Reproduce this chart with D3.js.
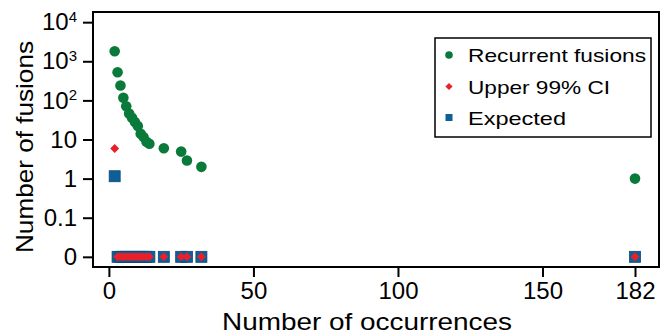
<!DOCTYPE html>
<html>
<head>
<meta charset="utf-8">
<script src="https://cdn.jsdelivr.net/npm/d3@7"></script>
<style>
  body { margin: 0; background: #fff; }
  text { font-family: "Liberation Sans", Arial, sans-serif; fill: #000; }
</style>
</head>
<body>
<div id="canvas"></div>
<script>
// occurrences shared by all three series
const occurrences = [2, 3, 4, 5, 6, 7, 8, 9, 10, 11, 12, 13, 14, 19, 25, 27, 32, 182];
const recurrentFusions = [1800, 525, 240, 117, 71, 46, 36, 28, 22, 14, 11.5, 8.7, 7.8, 6, 4.9, 2.9, 2, 1];
const upperCI = [5.9, 0, 0, 0, 0, 0, 0, 0, 0, 0, 0, 0, 0, 0, 0, 0, 0, 0];
const expected = [1.15, 0, 0, 0, 0, 0, 0, 0, 0, 0, 0, 0, 0, 0, 0, 0, 0, 0];

const xTicks = [0, 50, 100, 150, 182];
const yTicks = [0, 0.1, 1, 10, 100, 1000, 10000];
const yTickLabels = ['0', '0.1', '1', '10', '10|2', '10|3', '10|4'];
const legendLabels = ['Recurrent fusions', 'Upper 99% CI', 'Expected'];

const w = 661;
const h = 335;
const mLeft = 93, mRight = 659, mTop = 12, mBottom = 267;

const green = '#0a7a3a';
const red = '#e8202a';
const blue = '#0f5e98';

const xScale = d3.scaleLinear()
  .domain([-5.5, 190.3])
  .range([mLeft, mRight]);

const yLog = d3.scaleLog()
  .domain([Math.pow(10, -2.26), Math.pow(10, 4.26)])
  .range([mBottom, mTop]);
// zero is drawn on the 0.01 row
const yScale = (v) => yLog(v === 0 ? 0.01 : v);

const svg = d3.select('#canvas')
  .append('svg')
  .attr('width', w)
  .attr('height', h);

// frame
svg.append('rect')
  .attr('x', mLeft)
  .attr('y', mTop)
  .attr('width', mRight - mLeft)
  .attr('height', mBottom - mTop)
  .attr('fill', 'none')
  .attr('stroke', '#000')
  .attr('stroke-width', 2);

// axes
const xAxis = d3.axisBottom(xScale)
  .tickValues(xTicks)
  .tickSize(10)
  .tickPadding(5)
  .tickFormat(d3.format('d'));

const gx = svg.append('g')
  .attr('transform', 'translate(0,' + mBottom + ')')
  .call(xAxis);

const yAxis = d3.axisLeft(yLog)
  .tickValues(yTicks.map(v => v === 0 ? 0.01 : v))
  .tickSize(10)
  .tickPadding(6)
  .tickFormat((d, i) => yTickLabels[i]);

const gy = svg.append('g')
  .attr('transform', 'translate(' + mLeft + ',0)')
  .call(yAxis);

[gx, gy].forEach(g => {
  g.select('.domain').remove();
  g.selectAll('.tick line').attr('stroke', '#000').attr('stroke-width', 2);
  g.selectAll('.tick text')
    .attr('font-size', 24)
    .attr('font-family', '"Liberation Sans", Arial, sans-serif')
    .attr('fill', '#000');
});

// superscript powers of ten
gy.selectAll('.tick text').each(function() {
  const t = d3.select(this);
  const s = t.text();
  if (s.indexOf('|') >= 0) {
    const parts = s.split('|');
    t.text(null);
    t.append('tspan').text(parts[0]);
    t.append('tspan').attr('dy', '-0.55em').attr('font-size', 15).text(parts[1]);
  }
});

// expected (squares)
svg.selectAll('rect.expected')
  .data(occurrences)
  .enter()
  .append('rect')
  .attr('class', 'expected')
  .attr('x', (d) => xScale(d) - 5.5)
  .attr('y', (d, i) => yScale(expected[i]) - 5.5)
  .attr('width', 11)
  .attr('height', 11)
  .attr('fill', blue)
  .attr('stroke', '#0b4a78')
  .attr('stroke-width', 0.8);

// upper 99% CI (diamonds)
const diamond = d3.symbol(d3.symbolSquare, 40);
svg.selectAll('path.ci')
  .data(occurrences)
  .enter()
  .append('path')
  .attr('class', 'ci')
  .attr('d', diamond)
  .attr('transform', (d, i) => 'translate(' + xScale(d) + ',' + yScale(upperCI[i]) + ') rotate(45)')
  .attr('fill', red);

// recurrent fusions (circles)
svg.selectAll('circle.rec')
  .data(occurrences)
  .enter()
  .append('circle')
  .attr('class', 'rec')
  .attr('cx', (d) => xScale(d))
  .attr('cy', (d, i) => yScale(recurrentFusions[i]))
  .attr('r', 5.3)
  .attr('fill', green);

// legend
const legend = svg.append('g');
legend.append('rect')
  .attr('x', 435)
  .attr('y', 38)
  .attr('width', 216)
  .attr('height', 99)
  .attr('fill', '#fff')
  .attr('stroke', '#000')
  .attr('stroke-width', 1.5);

const rows = [55, 86.5, 117.5];
legend.append('circle').attr('cx', 449).attr('cy', rows[0]).attr('r', 3.8).attr('fill', green);
legend.append('path')
  .attr('d', d3.symbol(d3.symbolSquare, 26))
  .attr('transform', 'translate(449,' + rows[1] + ') rotate(45)')
  .attr('fill', red);
legend.append('rect').attr('x', 445.5).attr('y', rows[2] - 3.5).attr('width', 7).attr('height', 7).attr('fill', blue);

const legendWidths = [178, 142, 98];
legend.selectAll('text')
  .data(legendLabels)
  .enter()
  .append('text')
  .attr('x', 468)
  .attr('y', (d, i) => rows[i] + 7)
  .attr('font-size', 19)
  .attr('textLength', (d, i) => legendWidths[i])
  .attr('lengthAdjust', 'spacingAndGlyphs')
  .text(d => d);

// axis titles
svg.append('text')
  .attr('x', 367)
  .attr('y', 330)
  .attr('text-anchor', 'middle')
  .attr('font-size', 24)
  .attr('textLength', 290)
  .attr('lengthAdjust', 'spacingAndGlyphs')
  .text('Number of occurrences');

svg.append('text')
  .attr('transform', 'translate(33,147) rotate(-90)')
  .attr('text-anchor', 'middle')
  .attr('font-size', 24)
  .attr('textLength', 212)
  .attr('lengthAdjust', 'spacingAndGlyphs')
  .text('Number of fusions');
</script>
</body>
</html>
